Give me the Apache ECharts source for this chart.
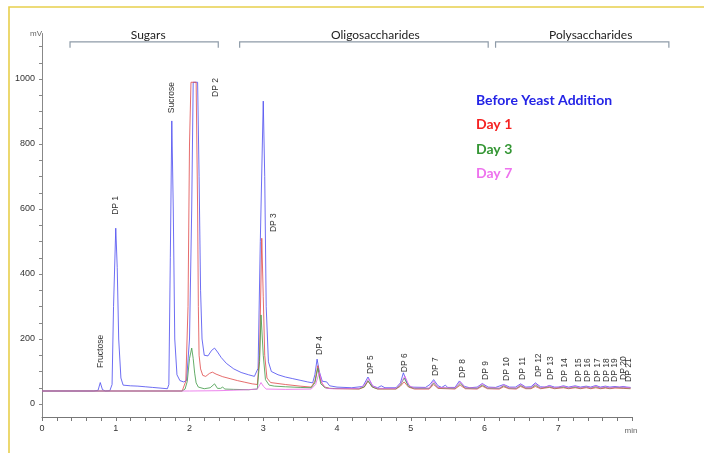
<!DOCTYPE html>
<html>
<head>
<meta charset="utf-8">
<script src="https://cdn.jsdelivr.net/npm/echarts@6/dist/echarts.min.js"></script>
<style>
  html, body { margin: 0; padding: 0; background: #fff; }
  #chart { width: 704px; height: 453px; }
</style>
</head>
<body>
<div id="chart"></div>
<script>
// series names (legend) and trace colours
let seriesNames = ['Before Yeast Addition', 'Day 1', 'Day 3', 'Day 7'];

// chromatogram traces, [time (min), signal (mV)]
let beforeYeast = [[0,40],[0.7,40],[0.76,42],[0.79,66],[0.82,44],[0.86,40],[0.92,41],[0.95,60],[0.97,300],[1.0,541],[1.02,420],[1.04,200],[1.07,80],[1.1,58],[1.2,56],[1.3,55],[1.4,53],[1.5,51],[1.6,49],[1.7,47],[1.72,60],[1.74,450],[1.76,871],[1.78,600],[1.8,200],[1.83,90],[1.87,72],[1.92,68],[1.96,72],[2.0,200],[2.03,600],[2.05,990],[2.11,990],[2.13,700],[2.15,350],[2.17,200],[2.2,150],[2.25,148],[2.3,165],[2.34,172],[2.38,160],[2.43,143],[2.5,125],[2.6,108],[2.7,97],[2.8,90],[2.88,85],[2.93,110],[2.96,500],[3.0,932],[3.02,700],[3.04,300],[3.07,130],[3.11,100],[3.2,90],[3.3,83],[3.4,78],[3.5,73],[3.6,68],[3.67,65],[3.7,90],[3.73,138],[3.76,100],[3.8,70],[3.86,68],[3.9,56],[4.0,52],[4.2,50],[4.35,54],[4.42,83],[4.48,56],[4.55,50],[4.6,56],[4.65,50],[4.8,50],[4.86,65],[4.9,96],[4.95,65],[5.0,52],[5.2,51],[5.26,60],[5.31,75],[5.37,56],[5.42,51],[5.47,58],[5.5,51],[5.6,51],[5.66,71],[5.73,54],[5.8,50],[5.9,52],[5.97,63],[6.05,52],[6.15,51],[6.26,60],[6.34,52],[6.42,52],[6.49,62],[6.56,52],[6.63,53],[6.69,65],[6.76,53],[6.82,52],[6.88,57],[6.95,52],[7.0,52],[7.07,56],[7.14,52],[7.23,56],[7.3,52],[7.38,55],[7.44,52],[7.51,57],[7.57,52],[7.64,55],[7.7,52],[7.77,54],[7.83,52],[7.88,54],[7.93,52],[7.98,51]];
let day1 = [[0,40],[1.9,40],[1.95,70],[1.98,300],[2.0,800],[2.02,990],[2.09,990],[2.11,600],[2.12,300],[2.13,150],[2.15,108],[2.18,88],[2.22,85],[2.27,94],[2.31,98],[2.36,92],[2.45,84],[2.55,78],[2.65,72],[2.75,67],[2.85,62],[2.92,60],[2.95,150],[2.98,510],[3.0,330],[3.02,150],[3.05,80],[3.1,66],[3.3,60],[3.5,55],[3.65,52],[3.7,70],[3.74,118],[3.78,70],[3.83,52],[3.9,48],[4.0,47],[4.3,46],[4.37,52],[4.42,70],[4.48,52],[4.55,46],[4.8,46],[4.86,55],[4.91,68],[4.97,52],[5.05,46],[5.25,46],[5.31,60],[5.37,48],[5.6,46],[5.67,58],[5.74,47],[5.9,46],[5.97,55],[6.04,47],[6.2,46],[6.26,53],[6.33,47],[6.43,46],[6.49,54],[6.56,47],[6.63,47],[6.69,54],[6.76,47],[6.88,51],[6.95,47],[7.07,50],[7.14,47],[7.23,50],[7.3,47],[7.38,50],[7.44,47],[7.51,50],[7.57,47],[7.64,49],[7.7,47],[7.77,49],[7.88,48],[7.98,47]];
let day3 = [[0,40],[1.9,40],[1.94,46],[1.97,70],[2.0,140],[2.03,172],[2.05,140],[2.07,95],[2.09,65],[2.12,52],[2.2,47],[2.28,50],[2.34,62],[2.38,48],[2.42,48],[2.45,52],[2.48,46],[2.6,45],[2.8,44],[2.92,46],[2.95,130],[2.97,274],[3.0,150],[3.03,75],[3.08,58],[3.15,55],[3.3,53],[3.5,51],[3.65,50],[3.7,65],[3.74,110],[3.78,62],[3.84,50],[3.9,48],[4.3,47],[4.37,53],[4.42,72],[4.48,52],[4.55,47],[4.8,47],[4.86,58],[4.91,80],[4.97,54],[5.05,48],[5.25,48],[5.31,65],[5.37,50],[5.6,48],[5.67,63],[5.74,49],[5.9,48],[5.97,58],[6.04,49],[6.2,48],[6.26,56],[6.33,49],[6.43,48],[6.49,57],[6.56,49],[6.63,49],[6.69,58],[6.76,49],[6.88,53],[6.95,49],[7.07,52],[7.14,49],[7.23,52],[7.3,49],[7.38,52],[7.44,49],[7.51,53],[7.57,49],[7.64,51],[7.7,49],[7.77,51],[7.88,50],[7.98,49]];
let day7 = [[0,40],[2.0,40],[2.4,41],[2.8,44],[2.92,46],[2.95,58],[2.97,66],[3.0,55],[3.04,46],[3.3,45],[3.65,46],[3.71,60],[3.76,98],[3.8,62],[3.86,48],[3.95,47],[4.3,48],[4.37,58],[4.43,78],[4.49,54],[4.56,48],[4.8,48],[4.86,62],[4.92,86],[4.98,56],[5.05,49],[5.25,49],[5.31,70],[5.37,51],[5.6,49],[5.67,68],[5.74,50],[5.9,49],[5.97,62],[6.04,50],[6.2,49],[6.26,59],[6.33,50],[6.43,49],[6.49,60],[6.56,50],[6.63,50],[6.69,62],[6.76,50],[6.88,55],[6.95,50],[7.07,54],[7.14,50],[7.23,54],[7.3,50],[7.38,53],[7.44,50],[7.51,55],[7.57,50],[7.64,53],[7.7,50],[7.77,52],[7.88,52],[7.98,50]];

// peak annotations: name, x of label, y where the (vertical) text starts
let peakNames = ['Fructose','DP 1','Sucrose','DP 2','DP 3','DP 4','DP 5','DP 6','DP 7','DP 8','DP 9','DP 10','DP 11','DP 12','DP 13','DP 14','DP 15','DP 16','DP 17','DP 18','DP 19','DP 20','DP 21'];
let peakLabelX = [0.79,1.0,1.76,2.35,3.14,3.77,4.45,4.92,5.34,5.71,6.01,6.3,6.52,6.73,6.9,7.09,7.28,7.4,7.54,7.66,7.77,7.89,7.96];
let peakLabelY = [111,582,895,945,529,151,92,98,86,80,74,71,74,83,74,68,68,68,68,68,68,74,68];

// region brackets along the top
let regionNames = ['Sugars','Oligosaccharides','Polysaccharides'];
let regionStart = [0.38,2.68,6.15];
let regionEnd = [2.39,6.05,8.5];
let regionLabelX = [1.44,4.52,7.44];

// axis ticks
let yLabelValues = [0,200,400,600,800,1000];
let yTickValues = [0,50,100,150,200,250,300,350,400,450,500,550,600,650,700,750,800,850,900,950,1000,1050,1100];
let xLabelValues = [0,1,2,3,4,5,6,7];

let lineColors = ['#4a4af0','#e04848','#3f9a45','#e866e8'];
let legendColors = ['#2424e6','#f52222','#349634','#ee72ee'];

let myChart = echarts.init(document.getElementById('chart'));

let traces = [beforeYeast, day1, day3, day7];
let series = [];
for (let i = 0; i < traces.length; i++) {
  series.push({
    name: seriesNames[i],
    type: 'line',
    data: traces[i],
    showSymbol: false,
    symbol: 'none',
    lineStyle: { color: lineColors[i], width: 1, opacity: 0.8 },
    itemStyle: { color: lineColors[i] },
    silent: true
  });
}

const BRACKET_Y = 1114;
const BRACKET_FOOT = 1096;

series.push({
  type: 'custom',
  name: 'regions',
  data: regionNames.map((n, i) => [regionStart[i], regionEnd[i], regionLabelX[i]]),
  renderItem: function (params, api) {
    let s = api.coord([api.value(0), BRACKET_Y]);
    let e = api.coord([api.value(1), BRACKET_Y]);
    let t = api.coord([api.value(2), BRACKET_Y]);
    let foot = api.coord([0, BRACKET_FOOT])[1];
    return {
      type: 'group',
      children: [
        {
          type: 'polyline',
          shape: { points: [[s[0], foot], [s[0], s[1]], [e[0], s[1]], [e[0], foot]] },
          style: { stroke: '#8e9ba8', lineWidth: 1.2, fill: null }
        },
        {
          type: 'text',
          x: t[0],
          y: s[1] - 1,
          style: {
            text: regionNames[params.dataIndex],
            align: 'center',
            verticalAlign: 'bottom',
            fontFamily: 'Lato',
            fontSize: 12,
            fill: '#222'
          }
        }
      ]
    };
  },
  silent: true,
  z: 5
});

series.push({
  type: 'custom',
  name: 'peaks',
  data: peakNames.map((n, i) => [peakLabelX[i], peakLabelY[i]]),
  renderItem: function (params, api) {
    let p = api.coord([api.value(0), api.value(1)]);
    return {
      type: 'text',
      x: p[0],
      y: p[1],
      rotation: Math.PI / 2,
      style: {
        text: peakNames[params.dataIndex],
        align: 'left',
        verticalAlign: 'middle',
        fontFamily: 'Liberation Sans',
        fontSize: 8.5,
        fill: '#333'
      }
    };
  },
  silent: true,
  z: 5
});

let option = {
  backgroundColor: '#fff',
  animation: false,
  legend: {
    orient: 'vertical',
    left: 470,
    top: 92,
    padding: 0,
    itemWidth: 0,
    itemHeight: 0,
    itemGap: 8.5,
    selectedMode: false,
    textStyle: { fontFamily: 'Lato', fontWeight: 'bold', fontSize: 14, lineHeight: 16 },
    data: seriesNames.map((n, i) => ({ name: n, textStyle: { color: legendColors[i] } }))
  },
  grid: { left: 42, right: 72, top: 33.5, bottom: 36 },
  xAxis: {
    type: 'value',
    min: 0,
    max: 8,
    interval: 1,
    name: 'min',
    nameLocation: 'end',
    nameGap: -1,
    nameTextStyle: { color: '#666', fontSize: 8, fontFamily: 'Liberation Sans', align: 'center', verticalAlign: 'top', padding: [10, 0, 0, 0] },
    axisLine: { show: true, onZero: false, lineStyle: { color: '#777', width: 1 } },
    axisTick: { show: true, length: 4, lineStyle: { color: '#777' } },
    minorTick: { show: true, splitNumber: 5, length: 4, lineStyle: { color: '#777' } },
    axisLabel: { customValues: xLabelValues, color: '#333', fontSize: 9, fontFamily: 'Liberation Sans', margin: 7 },
    splitLine: { show: false }
  },
  yAxis: {
    type: 'value',
    min: -40,
    max: 1140,
    name: 'mV',
    nameLocation: 'end',
    nameGap: 0,
    nameTextStyle: { color: '#666', fontSize: 8, fontFamily: 'Liberation Sans', align: 'right', verticalAlign: 'middle', padding: [0, 0, 0, 0] },
    axisLine: { show: true, lineStyle: { color: '#888', width: 1 } },
    axisTick: { show: true, length: 3, customValues: yTickValues, lineStyle: { color: '#888' } },
    axisLabel: {
      customValues: yLabelValues,
      formatter: function (v) { return String(v); },
      color: '#333',
      fontSize: 9,
      fontFamily: 'Liberation Sans',
      margin: 7
    },
    splitLine: { show: false }
  },
  graphic: [
    {
      type: 'polyline',
      shape: { points: [[9, 453], [9, 7], [704, 7]] },
      style: { stroke: '#e8cf4c', lineWidth: 1.6, fill: null },
      silent: true
    }
  ],
  series: series
};
myChart.setOption(option);
</script>
</body>
</html>
